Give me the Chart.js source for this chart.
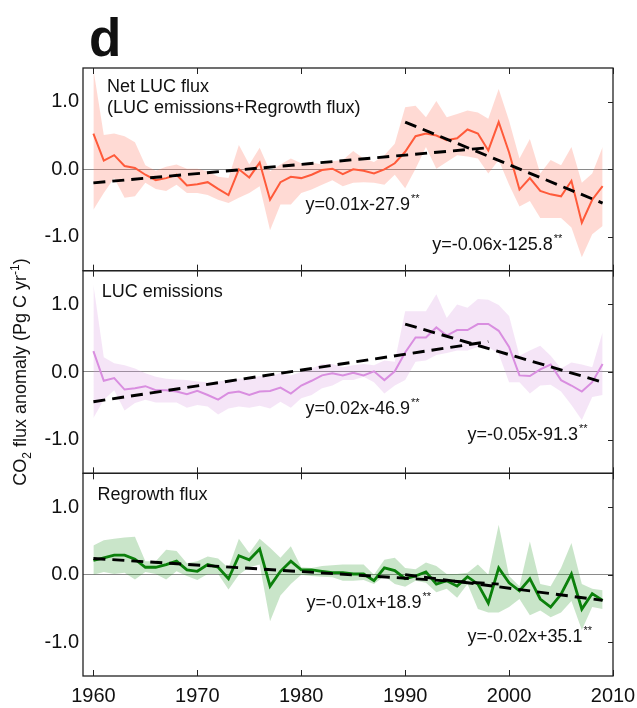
<!DOCTYPE html>
<html>
<head>
<meta charset="utf-8">
<script src="https://cdn.jsdelivr.net/npm/chart.js@4.4.1/dist/chart.umd.min.js"></script>
<style>
body{margin:0;background:#fff;}
#c{display:block;}
</style>
</head>
<body>
<canvas id="c" width="637" height="708"></canvas>
<script>
// years and ticks
var years=[1960,1961,1962,1963,1964,1965,1966,1967,1968,1969,
1970,1971,1972,1973,1974,1975,1976,1977,1978,1979,
1980,1981,1982,1983,1984,1985,1986,1987,1988,1989,
1990,1991,1992,1993,1994,1995,1996,1997,1998,1999,
2000,2001,2002,2003,2004,2005,2006,2007,2008,2009];
var xTicks=[1960,1970,1980,1990,2000,2010];
var yTicks=[-1,0,1];

// Net LUC flux (LUC emissions + Regrowth flux)
var netLine=[0.53,0.13,0.21,0.05,0.02,-0.08,-0.16,-0.13,-0.08,-0.24,
-0.22,-0.19,-0.29,-0.38,0.00,-0.12,0.10,-0.45,-0.19,-0.11,
-0.13,-0.08,-0.01,0.01,-0.07,0.00,-0.02,-0.06,0.00,0.09,
0.26,0.49,0.53,0.50,0.43,0.46,0.59,0.53,0.28,0.70,
0.25,-0.30,-0.13,-0.32,-0.37,-0.40,-0.17,-0.79,-0.45,-0.25];
var netUpper=[1.48,0.51,0.53,0.49,0.40,0.06,-0.02,0.04,0.07,0.01,
0.01,-0.03,-0.11,-0.13,0.36,0.07,0.32,-0.03,0.07,0.16,
0.09,0.10,0.07,0.12,0.14,0.27,0.16,0.11,0.21,0.38,
0.92,0.94,0.77,1.01,0.77,0.82,0.87,0.84,0.75,1.19,
0.72,0.16,0.45,-0.06,0.14,0.06,0.33,-0.20,-0.06,0.33];
var netLower=[-0.60,-0.35,-0.13,-0.42,-0.40,-0.20,-0.29,-0.32,-0.23,-0.35,
-0.35,-0.38,-0.45,-0.50,-0.42,-0.35,-0.25,-0.90,-0.52,-0.52,
-0.35,-0.30,-0.23,-0.16,-0.25,-0.20,-0.19,-0.20,-0.23,-0.08,
-0.28,0.01,0.33,0.01,0.11,0.21,0.19,0.16,-0.06,0.14,
-0.23,-0.55,-0.47,-0.72,-0.72,-0.72,-0.86,-1.30,-0.96,-0.84];
var netTrendA={x:[1960,1998],y:[-0.20,0.32]};
var netTrendB={x:[1990,2009],y:[0.70,-0.50]};

// LUC emissions
var lucLine=[0.31,-0.13,-0.09,-0.26,-0.24,-0.21,-0.27,-0.27,-0.29,-0.33,
-0.28,-0.34,-0.41,-0.31,-0.29,-0.34,-0.29,-0.28,-0.23,-0.32,
-0.20,-0.13,-0.05,-0.02,-0.05,-0.01,-0.05,0.01,-0.12,0.01,
0.29,0.51,0.51,0.66,0.54,0.62,0.62,0.71,0.71,0.61,
0.37,-0.05,-0.06,0.04,0.11,-0.12,-0.20,-0.29,-0.15,0.12];
var lucUpper=[1.29,0.22,0.13,0.10,0.05,-0.02,-0.07,-0.10,-0.11,-0.12,
-0.14,-0.15,-0.14,-0.12,-0.10,-0.10,-0.06,-0.07,-0.01,-0.05,
0.00,0.05,0.12,0.12,0.07,0.10,0.12,0.10,0.17,0.15,
0.90,0.90,0.90,1.15,0.80,1.00,0.95,1.08,1.07,0.99,
0.83,0.24,0.32,0.39,0.24,0.05,0.14,0.11,0.07,0.59];
var lucLower=[-0.68,-0.41,-0.27,-0.57,-0.46,-0.41,-0.45,-0.45,-0.45,-0.53,
-0.49,-0.51,-0.63,-0.54,-0.51,-0.53,-0.50,-0.54,-0.44,-0.53,
-0.39,-0.34,-0.24,-0.20,-0.12,-0.12,-0.07,-0.15,-0.32,-0.20,
-0.12,0.15,0.17,0.25,0.28,0.32,0.32,0.37,0.37,0.27,
-0.15,-0.15,-0.32,-0.20,-0.19,-0.29,-0.49,-0.71,-0.37,-0.34];
var lucTrendA={x:[1960,1998],y:[-0.44,0.45]};
var lucTrendB={x:[1990,2009],y:[0.71,-0.15]};

// Regrowth flux
var regLine=[0.21,0.25,0.29,0.29,0.23,0.11,0.11,0.15,0.20,0.07,
0.05,0.15,0.11,-0.06,0.28,0.22,0.38,-0.17,0.05,0.20,
0.07,0.07,0.05,0.03,0.03,0.01,0.01,-0.09,0.10,0.06,
-0.06,-0.02,0.04,-0.14,-0.09,-0.17,-0.03,-0.14,-0.42,0.10,
-0.12,-0.24,-0.06,-0.36,-0.48,-0.29,0.01,-0.51,-0.28,-0.38];
var regUpper=[0.43,0.51,0.53,0.55,0.56,0.20,0.20,0.37,0.35,0.17,
0.20,0.27,0.24,0.10,0.53,0.32,0.53,0.40,0.25,0.42,
0.11,0.10,0.13,0.14,0.15,0.15,0.15,0.00,0.22,0.25,
0.10,0.08,0.18,0.13,0.01,0.01,0.03,0.15,0.00,0.74,
-0.02,-0.17,0.49,-0.14,-0.17,0.10,0.47,-0.14,-0.21,-0.23];
var regLower=[0.00,0.04,0.01,0.03,-0.07,0.04,0.01,-0.07,0.05,-0.02,
-0.08,0.01,0.01,-0.22,0.00,0.11,0.15,-0.69,-0.31,-0.14,
0.00,-0.02,-0.03,-0.04,-0.09,-0.09,-0.08,-0.14,-0.02,-0.14,
-0.18,-0.09,-0.12,-0.26,-0.21,-0.34,-0.14,-0.51,-0.56,-0.56,
-0.48,-0.36,-0.60,-0.53,-0.63,-0.56,-0.39,-0.82,-0.48,-0.51];
var regTrendA={x:[1960,1999],y:[0.24,-0.14]};
var regTrendB={x:[1990,2009],y:[0.00,-0.38]};

// text labels: [axis, year, value, text, superscript]
var notes=[
 ["y1",1961.3,1.14,"Net LUC flux",""],
 ["y1",1961.3,0.83,"(LUC emissions+Regrowth flux)",""],
 ["y1",1980.4,-0.60,"y=0.01x-27.9","**"],
 ["y1",1992.6,-1.19,"y=-0.06x-125.8","**"],
 ["y2",1960.8,1.11,"LUC emissions",""],
 ["y2",1980.4,-0.62,"y=0.02x-46.9","**"],
 ["y2",1996.0,-1.00,"y=-0.05x-91.3","**"],
 ["y3",1960.4,1.11,"Regrowth flux",""],
 ["y3",1980.5,-0.50,"y=-0.01x+18.9","**"],
 ["y3",1996.0,-1.00,"y=-0.02x+35.1","**"]
];

var FONT="'Liberation Sans', Arial, Helvetica, sans-serif";

function pts(xs,ys){
    var out=[];
    for(var i=0;i<xs.length;i++){out.push({x:xs[i],y:ys[i]});}
    return out;
}

function panel(ax,line,upper,lower,trA,trB,col,band,lw){
    return [
        {data:pts(trA.x,trA.y),yAxisID:ax,borderColor:'#000',borderWidth:2.9,borderDash:[12,7],pointRadius:0,fill:false},
        {data:pts(trB.x,trB.y),yAxisID:ax,borderColor:'#000',borderWidth:2.9,borderDash:[12,7],pointRadius:0,fill:false},
        {data:pts(years,line),yAxisID:ax,borderColor:col,borderWidth:lw,pointRadius:0,fill:false},
        {data:pts(years,upper),yAxisID:ax,borderWidth:0,borderColor:'rgba(0,0,0,0)',pointRadius:0,backgroundColor:band,fill:'+1'},
        {data:pts(years,lower),yAxisID:ax,borderWidth:0,borderColor:'rgba(0,0,0,0)',pointRadius:0,fill:false}
    ];
}

function yScale(){
    return {
        type:'linear',position:'left',stack:'panels',stackWeight:1,min:-1.5,max:1.5,
        afterBuildTicks:function(s){s.ticks=yTicks.map(function(v){return {value:v};});},
        afterFit:function(s){s.width=83;},
        ticks:{font:{family:FONT,size:20},color:'#111',padding:4,callback:function(v){return v.toFixed(1);}},
        grid:{drawTicks:false,lineWidth:1,color:function(c){return (c.tick&&c.tick.value===0)?'#8a8a8a':'rgba(0,0,0,0)';}},
        border:{display:false}
    };
}

var decor={
    id:'decor',
    afterDraw:function(chart){
        var ctx=chart.ctx, ca=chart.chartArea, x=chart.scales.x;
        ctx.save();
        ['y1','y2','y3'].forEach(function(id){
            var s=chart.scales[id];
            ctx.strokeStyle='#222';
            ctx.lineWidth=1.3;
            ctx.strokeRect(ca.left,s.top,ca.right-ca.left,s.bottom-s.top);
            ctx.beginPath();
            xTicks.forEach(function(t){
                var px=Math.round(x.getPixelForValue(t))+0.5;
                ctx.moveTo(px,s.top);ctx.lineTo(px,s.top+6);
                ctx.moveTo(px,s.bottom);ctx.lineTo(px,s.bottom-6);
            });
            yTicks.forEach(function(t){
                var py=Math.round(s.getPixelForValue(t))+0.5;
                ctx.moveTo(ca.right,py);ctx.lineTo(ca.right-5,py);
            });
            ctx.lineWidth=1;
            ctx.stroke();
        });
        // notes
        ctx.fillStyle='#111';
        ctx.textBaseline='alphabetic';
        ctx.textAlign='left';
        notes.forEach(function(n){
            var s=chart.scales[n[0]];
            var px=x.getPixelForValue(n[1]), py=s.getPixelForValue(n[2]);
            ctx.font='18px '+FONT;
            ctx.fillText(n[3],px,py);
            if(n[4]){
                var w=ctx.measureText(n[3]).width;
                ctx.font='11px '+FONT;
                ctx.fillText(n[4],px+w+1,py-8);
            }
        });
        // panel letter
        ctx.font='bold 53px '+FONT;
        ctx.fillText('d',89,56);
        // y axis title
        var cy=(chart.scales.y2.top+chart.scales.y2.bottom)/2;
        ctx.translate(26,cy);
        ctx.rotate(-Math.PI/2);
        var parts=[["CO",18,0],["2",12,5],[" flux anomaly (Pg C yr",18,0],["-1",12,-7],[")",18,0]];
        var tot=0;
        parts.forEach(function(p){ctx.font=p[1]+'px '+FONT;tot+=ctx.measureText(p[0]).width;});
        var cx=-tot/2;
        parts.forEach(function(p){
            ctx.font=p[1]+'px '+FONT;
            ctx.fillText(p[0],cx,p[2]);
            cx+=ctx.measureText(p[0]).width;
        });
        ctx.restore();
    }
};

var ds=[].concat(
    panel('y1',netLine,netUpper,netLower,netTrendA,netTrendB,'#ff5a3a','rgba(255,120,95,0.27)',2),
    panel('y2',lucLine,lucUpper,lucLower,lucTrendA,lucTrendB,'#d98ee0','rgba(215,150,225,0.25)',2),
    panel('y3',regLine,regUpper,regLower,regTrendA,regTrendB,'#0b800b','rgba(40,150,40,0.25)',2.8)
);

// stacked left axes are placed top-down in reverse order, so y3 is listed first
var chart=new Chart(document.getElementById('c').getContext('2d'),{
    type:'line',
    data:{datasets:ds},
    options:{
        responsive:false,
        animation:false,
        events:[],
        layout:{padding:{top:68,right:24,bottom:0,left:0}},
        plugins:{legend:{display:false},tooltip:{enabled:false},filler:{drawTime:'beforeDatasetsDraw'}},
        elements:{line:{tension:0}},
        scales:{
            x:{type:'linear',min:1959,max:2010,
                afterBuildTicks:function(s){s.ticks=xTicks.map(function(v){return {value:v};});},
                ticks:{font:{family:FONT,size:20},color:'#111',padding:0,maxRotation:0,autoSkip:false,callback:function(v){return String(v);}},
                grid:{display:false},border:{display:false}},
            y3:yScale(),
            y2:yScale(),
            y1:yScale()
        }
    },
    plugins:[decor]
});
</script>
</body>
</html>
